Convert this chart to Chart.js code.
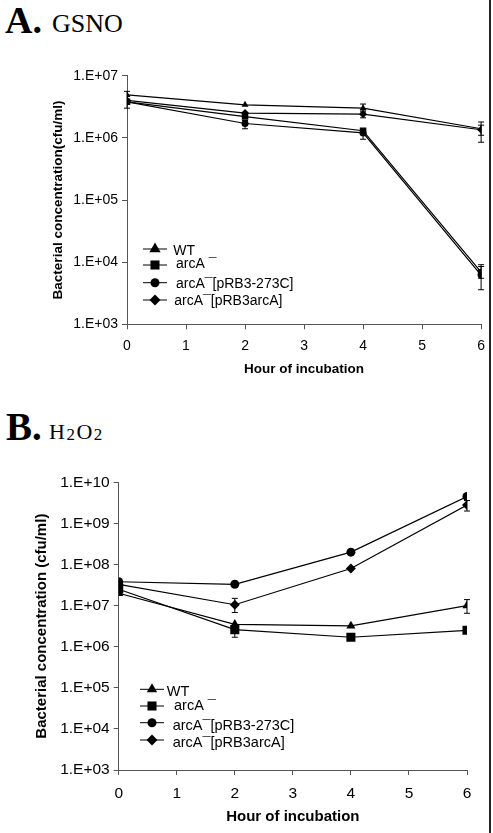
<!DOCTYPE html>
<html><head><meta charset="utf-8">
<script src="https://cdn.jsdelivr.net/npm/chart.js@4/dist/chart.umd.min.js"></script>
<style>
html,body{margin:0;padding:0;background:#fff;}
body{width:493px;height:833px;position:relative;overflow:hidden;}
.t{position:absolute;font-family:"Liberation Serif","Times New Roman",serif;line-height:1;color:#000;white-space:nowrap;}
canvas{position:absolute;left:0;}
#ca{top:0;}
#cb{top:400px;}
#edge{position:absolute;left:489px;top:0;width:1.5px;height:833px;background:#222;}
</style></head>
<body>
<div class="t" style="left:5px;top:1px;font-size:38px;font-weight:bold;">A.</div>
<div class="t" style="left:52px;top:11px;font-size:26px;">GSNO</div>
<div class="t" style="left:6px;top:407px;font-size:39px;font-weight:bold;">B.</div>
<div class="t" style="left:49px;top:421px;font-size:22px;letter-spacing:1.5px;">H<span style="font-size:17px;position:relative;top:1px;">2</span>O<span style="font-size:17px;position:relative;top:1px;">2</span></div>
<canvas id="ca" width="493" height="400"></canvas>
<canvas id="cb" width="493" height="433"></canvas>
<div id="edge"></div>
<script>
// ---------- data ----------
const hours = [0, 2, 4, 6];
const seriesLabels = ['WT', 'arcA \u00AF', 'arcA\u00AF[pRB3-273C]', 'arcA\u00AF[pRB3arcA]'];
const seriesStyles = ['triangle', 'rect', 'circle', 'rectRot'];

// Panel A: GSNO
const gsnoWT        = [4.9e6, 3.4e6, 3.0e6, 1.4e6];
const gsnoArcA      = [3.8e6, 2.2e6, 1.3e6, 6.9e3];
const gsnoArcA273C  = [3.8e6, 1.7e6, 1.2e6, 6.2e3];
const gsnoArcApRB3  = [4.0e6, 2.5e6, 2.4e6, 1.35e6];
const gsnoWTErr       = [[3.0e6, 5.6e6], null, [2.6e6, 3.5e6], [8.5e5, 1.8e6]];
const gsnoArcAErr     = [null, null, [9.5e5, 1.4e6], [5.5e3, 8.5e3]];
const gsnoArcA273CErr = [null, [1.4e6, 1.9e6], null, [3.6e3, 9.1e3]];
const gsnoArcApRB3Err = [null, null, [2.1e6, 2.7e6], [1.1e6, 1.6e6]];
const gsnoYTicks      = [1e3, 1e4, 1e5, 1e6, 1e7];
const gsnoYTickLabels = ['1.E+03', '1.E+04', '1.E+05', '1.E+06', '1.E+07'];

// Panel B: H2O2
const h2o2WT        = [2.0e7, 3.5e6, 3.2e6, 1.0e7];
const h2o2ArcA      = [2.5e7, 2.6e6, 1.7e6, 2.5e6];
const h2o2ArcA273C  = [3.8e7, 3.3e7, 2.0e8, 4.5e9];
const h2o2ArcApRB3  = [3.3e7, 1.05e7, 8.0e7, 2.8e9];
const h2o2WTErr       = [null, null, null, [6.5e6, 1.4e7]];
const h2o2ArcAErr     = [null, [1.7e6, 3.0e6], null, null];
const h2o2ArcA273CErr = [null, null, null, null];
const h2o2ArcApRB3Err = [null, [6.8e6, 1.5e7], null, [2.0e9, 3.6e9]];
const h2o2YTicks      = [1e3, 1e4, 1e5, 1e6, 1e7, 1e8, 1e9, 1e10];
const h2o2YTickLabels = ['1.E+03', '1.E+04', '1.E+05', '1.E+06', '1.E+07', '1.E+08', '1.E+09', '1.E+10'];

const xTitle = 'Hour of incubation';

// ---------- plugins ----------
const errorBarPlugin = {
  id: 'errorBars',
  beforeDatasetsDraw(chart) {
    const ctx = chart.ctx, xs = chart.scales.x, ys = chart.scales.y;
    ctx.save();
    ctx.strokeStyle = '#000';
    ctx.lineWidth = 1;
    chart.data.datasets.forEach(ds => {
      (ds.errors || []).forEach((e, i) => {
        if (!e) return;
        const x = xs.getPixelForValue(ds.data[i].x);
        const y1 = ys.getPixelForValue(e[0]);
        const y2 = ys.getPixelForValue(e[1]);
        ctx.beginPath();
        ctx.moveTo(x, y1); ctx.lineTo(x, y2);
        ctx.moveTo(x - 3, y1); ctx.lineTo(x + 3, y1);
        ctx.moveTo(x - 3, y2); ctx.lineTo(x + 3, y2);
        ctx.stroke();
      });
    });
    ctx.restore();
  }
};

function drawMarker(ctx, style, r, x, y) {
  ctx.beginPath();
  if (style === 'circle') {
    ctx.arc(x, y, r, 0, Math.PI * 2);
  } else if (style === 'rect') {
    const s = r * Math.SQRT1_2;
    ctx.rect(x - s, y - s, 2 * s, 2 * s);
  } else if (style === 'rectRot') {
    ctx.moveTo(x, y - r); ctx.lineTo(x + r, y); ctx.lineTo(x, y + r); ctx.lineTo(x - r, y);
    ctx.closePath();
  } else if (style === 'triangle') {
    const a = Math.PI * 2 / 3;
    ctx.moveTo(x, y - r);
    ctx.lineTo(x + Math.sin(a) * r, y - Math.cos(a) * r);
    ctx.lineTo(x + Math.sin(2 * a) * r, y - Math.cos(2 * a) * r);
    ctx.closePath();
  }
  ctx.fill();
}

const insideLegendPlugin = {
  id: 'insideLegend',
  afterDraw(chart, args, o) {
    const ctx = chart.ctx;
    ctx.save();
    ctx.fillStyle = '#000';
    ctx.strokeStyle = '#000';
    ctx.lineWidth = 1;
    ctx.font = o.font;
    ctx.textBaseline = 'alphabetic';
    chart.data.datasets.forEach((ds, i) => {
      const y = o.rowY[i];
      ctx.beginPath();
      ctx.moveTo(o.lineX0, y); ctx.lineTo(o.lineX1, y);
      ctx.stroke();
      drawMarker(ctx, ds.pointStyle, o.markerR[i], (o.lineX0 + o.lineX1) / 2, y);
      ctx.fillText(ds.label, o.textX[i], o.textBase[i]);
    });
    ctx.restore();
  }
};

function makeChart(id, series, errs, yTicks, yTickLabels, st) {
  const datasets = series.map((vals, i) => ({
    label: seriesLabels[i],
    data: hours.map((h, j) => ({ x: h, y: vals[j] })),
    errors: errs[i],
    pointStyle: seriesStyles[i],
    pointRadius: st.pointR[i],
    pointHoverRadius: st.pointR[i],
    pointBackgroundColor: '#000',
    pointBorderColor: '#000',
    pointBorderWidth: 0,
    borderColor: '#000',
    borderWidth: 1.2,
    tension: 0,
    fill: false
  }));
  const tickFont = { family: 'Liberation Sans, Arial, sans-serif', size: st.tickSize };
  const titleFont = { family: 'Liberation Sans, Arial, sans-serif', size: st.titleSize, weight: 'bold' };
  return new Chart(document.getElementById(id), {
    type: 'line',
    data: { datasets },
    plugins: [errorBarPlugin, insideLegendPlugin],
    options: {
      responsive: false,
      animation: false,
      events: [],
      layout: { padding: { left: 0, right: st.padRight, top: st.padTop, bottom: 0 } },
      plugins: {
        legend: { display: false },
        tooltip: { enabled: false },
        insideLegend: st.legend
      },
      scales: {
        x: {
          type: 'linear', min: 0, max: 6,
          ticks: { stepSize: 1, color: '#000', font: tickFont, padding: st.xTickPad, maxRotation: 0 },
          grid: { drawOnChartArea: false, drawTicks: true, tickLength: 5, color: '#555', lineWidth: 1 },
          border: { display: true, color: '#555', width: 1 },
          title: { display: true, text: xTitle, color: '#000', font: titleFont, padding: { top: 0, bottom: st.xTitlePad } },
          afterFit(s) { s.height = st.xHeight; }
        },
        y: {
          type: 'logarithmic', min: yTicks[0], max: yTicks[yTicks.length - 1],
          afterBuildTicks(s) { s.ticks = yTicks.map(v => ({ value: v })); },
          ticks: {
            color: '#000', font: tickFont, padding: 4,
            callback(v) { const k = yTicks.indexOf(v); return k >= 0 ? yTickLabels[k] : null; }
          },
          grid: { drawOnChartArea: false, drawTicks: true, tickLength: 5, color: '#555', lineWidth: 1 },
          border: { display: true, color: '#555', width: 1 },
          title: { display: true, text: st.yTitle, color: '#000', font: titleFont, padding: { top: st.yTitlePad, bottom: 0 } },
          afterFit(s) { s.width = st.yWidth; }
        }
      }
    }
  });
}

makeChart('ca',
  [gsnoWT, gsnoArcA, gsnoArcA273C, gsnoArcApRB3],
  [gsnoWTErr, gsnoArcAErr, gsnoArcA273CErr, gsnoArcApRB3Err],
  gsnoYTicks, gsnoYTickLabels,
  {
    pointR: [4, 4.6, 3.5, 4],
    tickSize: 14, titleSize: 13.5,
    padRight: 11, padTop: 75.7,
    xHeight: 75.7, xTickPad: 8, xTitlePad: 23,
    yWidth: 127, yTitlePad: 50,
    yTitle: 'Bacterial concentration(cfu/ml)',
    legend: {
      font: '14px "Liberation Sans", Arial, sans-serif',
      lineX0: 143, lineX1: 167,
      rowY: [249, 265, 282.7, 300],
      textX: [173.3, 176, 176, 174.3],
      textBase: [255, 268, 287.5, 305],
      markerR: [6.5, 6.4, 4.5, 5.5]
    }
  });

makeChart('cb',
  [h2o2WT, h2o2ArcA, h2o2ArcA273C, h2o2ArcApRB3],
  [h2o2WTErr, h2o2ArcAErr, h2o2ArcA273CErr, h2o2ArcApRB3Err],
  h2o2YTicks, h2o2YTickLabels,
  {
    pointR: [5.3, 6.4, 4.5, 5],
    tickSize: 15.5, titleSize: 15,
    padRight: 26, padTop: 82.3,
    xHeight: 63, xTickPad: 9, xTitlePad: 6.7,
    yWidth: 118.7, yTitlePad: 32.7,
    yTitle: 'Bacterial concentration (cfu/ml)',
    legend: {
      font: '14.5px "Liberation Sans", Arial, sans-serif',
      lineX0: 140, lineX1: 164,
      rowY: [289.3, 306, 322.7, 340],
      textX: [166.7, 174, 172.7, 172.7],
      textBase: [296, 310, 330, 347.3],
      markerR: [6, 6.4, 4.5, 5.5]
    }
  });
</script>
</body></html>
